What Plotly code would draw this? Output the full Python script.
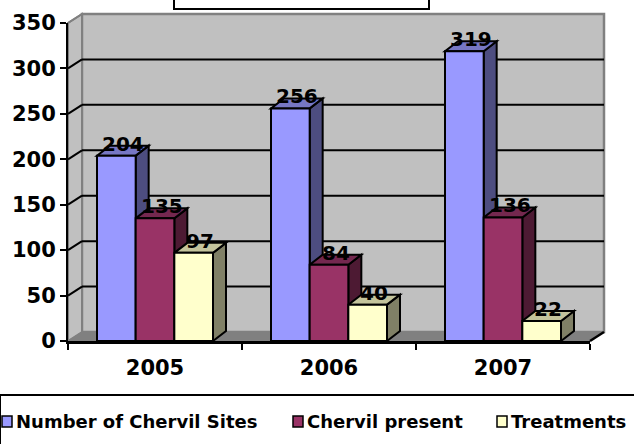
import plotly.graph_objects as go

# ---------------- data ----------------
years = ["2005", "2006", "2007"]
series_names = ["Number of Chervil Sites", "Chervil present", "Treatments"]
sites = [204, 256, 319]
present = [135, 84, 136]
treatments = [97, 40, 22]
series_values = [sites, present, treatments]

front_colors = ["#9999FF", "#993366", "#FFFFCC"]
side_colors = ["#4D4D80", "#4D1A33", "#808066"]
top_colors = ["#7777C4", "#74284F", "#C4C49C"]

# ---------------- layout geometry (pixels) ----------------
W, H = 634, 444
L, R, T, B = 68, 590, 23, 341   # front plot area
YMAX = 350
WX, WY = 14, 9                  # back-wall depth offset in px
BX, BY = 13, 10                 # bar depth offset in px
BARGAP = 1 / 3
NS = len(series_names)
bw = (1 - BARGAP) / NS

ux = len(years) / (R - L)       # data units per px (x)
uy = YMAX / (B - T)             # data units per px (y)


def xp(px):
    return (px - L) / (R - L)


def yp(py):
    return (B - py) / (B - T)


def ypx(v):
    return B - v / uy


FONT = "DejaVu Sans"

fig = go.Figure()
for k, (name, vals) in enumerate(zip(series_names, series_values)):
    fig.add_trace(go.Bar(
        name=name, x=years, y=vals,
        marker=dict(color=front_colors[k], line=dict(color="black", width=2)),
        showlegend=False,
    ))

shapes = []
# back wall
shapes.append(dict(type="rect", xref="paper", yref="paper", layer="below",
                   x0=xp(L + WX), x1=xp(R + WX), y0=yp(B - WY), y1=yp(T - WY),
                   fillcolor="#C0C0C0", line=dict(color="#808080", width=2.5)))
# left side wall
shapes.append(dict(type="path", xref="paper", yref="paper", layer="below",
                   path=f"M{xp(L)},{yp(B)} L{xp(L)},{yp(T)} L{xp(L+WX)},{yp(T-WY)} L{xp(L+WX)},{yp(B-WY)} Z",
                   fillcolor="#C0C0C0", line=dict(color="#808080", width=2)))
# floor
shapes.append(dict(type="path", xref="paper", yref="paper", layer="below",
                   path=f"M{xp(L)},{yp(B)} L{xp(R)},{yp(B)} L{xp(R+WX)},{yp(B-WY)} L{xp(L+WX)},{yp(B-WY)} Z",
                   fillcolor="#808080", line=dict(color="#808080", width=1)))
# gridlines on back wall and left wall
for v in range(50, YMAX, 50):
    py = ypx(v)
    shapes.append(dict(type="line", xref="paper", yref="paper", layer="below",
                       x0=xp(L + WX), x1=xp(R + WX), y0=yp(py - WY), y1=yp(py - WY),
                       line=dict(color="black", width=2)))
for v in range(50, YMAX + 1, 50):
    py = ypx(v)
    shapes.append(dict(type="line", xref="paper", yref="paper", layer="below",
                       x0=xp(L), x1=xp(L + WX), y0=yp(py), y1=yp(py - WY),
                       line=dict(color="black" if v < YMAX else "#808080", width=2)))
# floor right edge
shapes.append(dict(type="line", xref="paper", yref="paper", layer="above",
                   x0=xp(R), x1=xp(R + WX), y0=yp(B), y1=yp(B - WY),
                   line=dict(color="black", width=2.5)))

# 3-D faces of the bars
dx, dy = BX * ux, BY * uy
for i in range(len(years)):
    for k in range(NS):
        v = series_values[k][i]
        c = i + (k - (NS - 1) / 2) * bw
        x0, x1 = c - bw / 2, c + bw / 2
        shapes.append(dict(type="path", xref="x", yref="y", layer="below",
                           path=f"M{x1},0 L{x1},{v} L{x1+dx},{v+dy} L{x1+dx},{dy} Z",
                           fillcolor=side_colors[k], line=dict(color="black", width=2)))
        shapes.append(dict(type="path", xref="x", yref="y", layer="below",
                           path=f"M{x0},{v} L{x1},{v} L{x1+dx},{v+dy} L{x0+dx},{v+dy} Z",
                           fillcolor=top_colors[k], line=dict(color="black", width=2)))

# title box (empty)
shapes.append(dict(type="rect", xref="paper", yref="paper", layer="above",
                   x0=xp(174), x1=xp(429), y0=yp(9), y1=yp(-6),
                   fillcolor="white", line=dict(color="black", width=2)))
# legend box
shapes.append(dict(type="rect", xref="paper", yref="paper", layer="above",
                   x0=xp(0), x1=xp(W + 2), y0=yp(H + 5), y1=yp(395),
                   fillcolor="white", line=dict(color="black", width=2)))

annotations = []
for i in range(len(years)):
    for k in range(NS):
        v = series_values[k][i]
        c = i + (k - (NS - 1) / 2) * bw
        annotations.append(dict(x=c, y=v, xref="x", yref="y", text=str(v),
                                showarrow=False, xshift=BX / 2, yshift=12,
                                yanchor="middle", xanchor="center",
                                font=dict(family=FONT, size=20, color="black", weight="bold")))

# custom legend
leg_sq = [2, 293, 497]
for k, name in enumerate(series_names):
    sx = leg_sq[k]
    shapes.append(dict(type="rect", xref="paper", yref="paper", layer="above",
                       x0=xp(sx), x1=xp(sx + 10), y0=yp(427), y1=yp(416),
                       fillcolor=front_colors[k], line=dict(color="black", width=1.5)))
    annotations.append(dict(x=xp(sx + 12), y=yp(421.5), xref="paper", yref="paper",
                            text=name, showarrow=False, xanchor="left", yanchor="middle",
                            font=dict(family=FONT, size=18, color="black", weight="bold")))

fig.update_layout(
    width=W, height=H,
    margin=dict(l=L, r=W - R, t=T, b=H - B, pad=0),
    paper_bgcolor="white", plot_bgcolor="rgba(0,0,0,0)",
    barmode="group", bargap=BARGAP, bargroupgap=0,
    shapes=shapes, annotations=annotations,
    showlegend=False,
    font=dict(family=FONT, color="black"),
    xaxis=dict(type="category", range=[-0.5, 2.5], tickson="boundaries",
               ticks="outside", ticklen=6, tickwidth=2, tickcolor="black",
               showline=True, linecolor="black", linewidth=3, showgrid=False,
               zeroline=False, ticklabelstandoff=6,
               tickfont=dict(family=FONT, size=21, color="black", weight="bold")),
    yaxis=dict(range=[0, YMAX], dtick=50, ticks="outside", ticklen=6, tickwidth=2,
               tickcolor="black", showline=True, linecolor="black", linewidth=2,
               showgrid=False, zeroline=False,
               tickfont=dict(family=FONT, size=21, color="black", weight="bold")),
)

fig.write_html("out.html", config={"displayModeBar": False},
               post_script="document.body.style.margin='0';document.body.style.overflow='hidden';")
